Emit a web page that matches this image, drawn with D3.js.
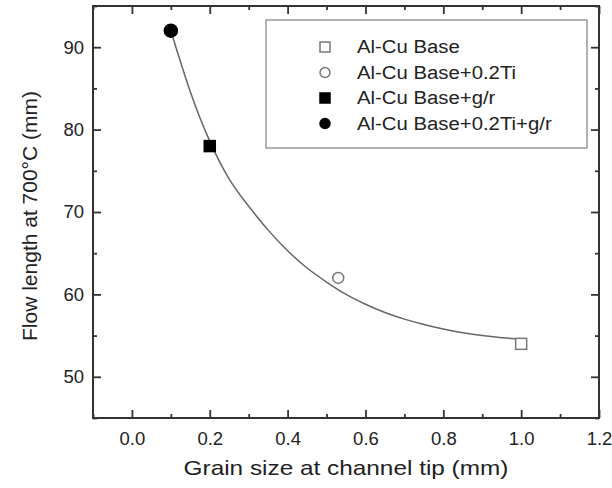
<!DOCTYPE html>
<html>
<head>
<meta charset="utf-8">
<script src="https://cdn.jsdelivr.net/npm/d3@7"></script>
<style>
	body { margin: 0; background: #fff; }
	text { font-family: Arial, 'Liberation Sans', sans-serif; fill: #222; }
</style>
</head>
<body>
<svg width="612" height="488"></svg>
<script>
// measured samples
const seriesNames = ['Al-Cu Base', 'Al-Cu Base+0.2Ti', 'Al-Cu Base+g/r', 'Al-Cu Base+0.2Ti+g/r'];
const grainSize = [1.0, 0.53, 0.2, 0.1];
const flowLength = [54, 62, 78, 92];
const symbols = ['square-open', 'circle-open', 'square', 'circle'];

// fitted curve
const curveX = [0.10, 0.15, 0.20, 0.25, 0.30, 0.35, 0.40, 0.45, 0.50, 0.55, 0.60, 0.65, 0.70, 0.75, 0.80, 0.85, 0.90, 0.95, 1.00];
const curveY = [92.0, 84.6, 78.6, 74.0, 70.7, 67.8, 65.3, 63.2, 61.5, 60.0, 58.8, 57.8, 57.0, 56.35, 55.8, 55.35, 55.0, 54.75, 54.55];

const xTicks = [0, 0.2, 0.4, 0.6, 0.8, 1.0, 1.2];
const yTicks = [50, 60, 70, 80, 90];

const svg = d3.select('svg');
const margin = { left: 93, right: 13, top: 6, bottom: 70 };
const width = 612 - margin.left - margin.right;
const height = 488 - margin.top - margin.bottom;

const x = d3.scaleLinear().domain([-0.1, 1.2]).range([0, width]);
const y = d3.scaleLinear().domain([45, 95]).range([height, 0]);

const g = svg.append('g').attr('transform', `translate(${margin.left},${margin.top})`);

const axisColor = '#333';

// ticks, inward, on all four sides
function drawTicks(axisGen, transform, major, minor, labels) {
	const ax = g.append('g').attr('transform', transform);
	ax.call(axisGen.tickValues(minor).tickSize(-4).tickFormat(''));
	ax.call((sel) => sel.select('.domain').remove());
	const ax2 = g.append('g').attr('transform', transform);
	ax2.call(axisGen.tickValues(major).tickSize(-8).tickPadding(14).tickFormat(labels ? d3.format('.1f') : ''));
	ax2.select('.domain').remove();
	[ax, ax2].forEach((a) => a.selectAll('line').attr('stroke', axisColor).attr('stroke-width', 1.8));
	return ax2;
}

const xMinor = [-0.1, 0.1, 0.3, 0.5, 0.7, 0.9, 1.1];
const yMinor = [45, 55, 65, 75, 85, 95];

const bottom = drawTicks(d3.axisBottom(x), `translate(0,${height})`, xTicks, xMinor, true);
bottom.selectAll('text').attr('font-size', 18.5).attr('dy', '0.71em');
drawTicks(d3.axisTop(x), 'translate(0,0)', xTicks, xMinor, false);

const left = drawTicks(d3.axisLeft(y), 'translate(0,0)', yTicks, yMinor, true);
left.selectAll('text').text((d) => d).attr('font-size', 18.5).attr('dx', '5');
drawTicks(d3.axisRight(y), `translate(${width},0)`, yTicks, yMinor, false);

g.selectAll('.tick text').attr('fill', '#222').attr('font-family', 'Arial, "Liberation Sans", sans-serif');

// frame
g.append('rect')
	.attr('width', width)
	.attr('height', height)
	.attr('fill', 'none')
	.attr('stroke', axisColor)
	.attr('stroke-width', 2);

// fit line
const line = d3.line()
	.x((d, i) => x(curveX[i]))
	.y((d) => y(d))
	.curve(d3.curveNatural);

g.append('path')
	.attr('d', line(curveY))
	.attr('fill', 'none')
	.attr('stroke', '#666')
	.attr('stroke-width', 1.5);

function drawSymbol(sel, type, cx, cy, size) {
	if (type.startsWith('square')) {
		sel.append('rect')
			.attr('x', cx - size / 2)
			.attr('y', cy - size / 2)
			.attr('width', size)
			.attr('height', size)
			.attr('fill', type === 'square' ? '#000' : '#fff')
			.attr('stroke', type === 'square' ? '#000' : '#777')
			.attr('stroke-width', 1.5);
	} else {
		sel.append('circle')
			.attr('cx', cx)
			.attr('cy', cy)
			.attr('r', size / 2)
			.attr('fill', type === 'circle' ? '#000' : '#fff')
			.attr('stroke', type === 'circle' ? '#000' : '#777')
			.attr('stroke-width', 1.5);
	}
}

grainSize.forEach((d, i) => {
	drawSymbol(g, symbols[i], x(d), y(flowLength[i]), symbols[i] === 'circle' ? 13 : 11);
});

// legend
const legend = svg.append('g').attr('transform', 'translate(266,20)');
legend.append('rect')
	.attr('width', 321)
	.attr('height', 128)
	.attr('fill', '#fff')
	.attr('stroke', '#999')
	.attr('stroke-width', 1.5);

seriesNames.forEach((name, i) => {
	const ly = 27 + i * 25.5;
	drawSymbol(legend, symbols[i], 59, ly, 10);
	legend.append('text')
		.attr('transform', `translate(91,${ly}) scale(1.13,1)`)
		.attr('dy', '0.36em')
		.attr('font-size', 18)
		.text(name);
});

// axis titles
svg.append('text')
	.attr('transform', `translate(${margin.left + width / 2},475) scale(1.16,1)`)
	.attr('text-anchor', 'middle')
	.attr('font-size', 21)
	.text('Grain size at channel tip (mm)');

svg.append('text')
	.attr('transform', `translate(37,216) rotate(-90)`)
	.attr('text-anchor', 'middle')
	.attr('font-size', 21)
	.text('Flow length at 700°C (mm)');
</script>
</body>
</html>
